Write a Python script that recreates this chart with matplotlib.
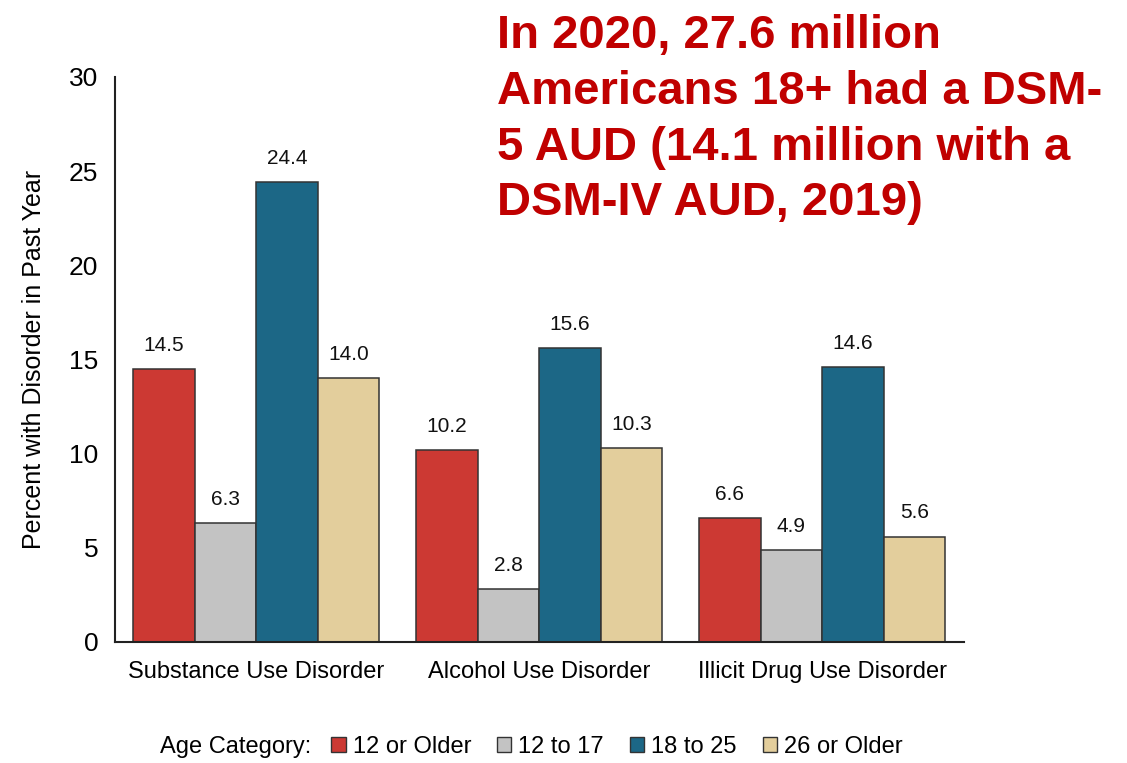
import numpy as np
import matplotlib.pyplot as plt
from matplotlib.patches import Patch

# Past-year disorder prevalence by age group
disorders = ["Substance Use Disorder", "Alcohol Use Disorder", "Illicit Drug Use Disorder"]
age_groups = ["12 or Older", "12 to 17", "18 to 25", "26 or Older"]
older_12 = [14.5, 10.2, 6.6]
age_12_17 = [6.3, 2.8, 4.9]
age_18_25 = [24.4, 15.6, 14.6]
older_26 = [14.0, 10.3, 5.6]
yticks = [0, 5, 10, 15, 20, 25, 30]

series = [older_12, age_12_17, age_18_25, older_26]
colors = ["#CC3933", "#C3C3C3", "#1C6786", "#E3CE9C"]

plt.rcParams["font.family"] = ["Liberation Sans", "DejaVu Sans"]

fig = plt.figure(figsize=(11.27, 7.63), dpi=100)
ax = fig.add_axes([0.102, 0.1586, 0.753, 0.7405])

x = np.arange(len(disorders))
width = 0.2175
for i, (vals, c) in enumerate(zip(series, colors)):
    pos = x + (i - 1.5) * width
    bars = ax.bar(pos, vals, width, color=c, edgecolor="#333333", linewidth=1.1)
    for b, v in zip(bars, vals):
        ax.text(b.get_x() + b.get_width() / 2, v + 0.75, f"{v:.1f}",
                ha="center", va="bottom", fontsize=15, color="#111111")

ax.set_xlim(-0.5, 2.5)
ax.set_ylim(0, 30)
ax.set_yticks(yticks)
ax.set_xticks(x)
ax.set_xticklabels(disorders, fontsize=17)
ax.tick_params(axis="y", labelsize=19, length=0, pad=12)
ax.tick_params(axis="x", length=0, pad=14)
for s in ["top", "right"]:
    ax.spines[s].set_visible(False)
for s in ["left", "bottom"]:
    ax.spines[s].set_linewidth(1.5)
    ax.spines[s].set_color("#222222")
ax.set_ylabel("Percent with Disorder in Past Year", fontsize=18)
ax.yaxis.set_label_coords(-0.081, 0.5)

# Legend along the bottom
legend_y = 0.021
fig.text(0.142, legend_y, "Age Category:", fontsize=17, va="center", ha="left")
handles = [Patch(facecolor=c, edgecolor="#333333", label=l) for c, l in zip(colors, age_groups)]
fig.legend(handles=handles, loc="center left", bbox_to_anchor=(0.294, legend_y), ncol=4,
           frameon=False, fontsize=17, handlelength=0.6, handleheight=0.6,
           handletextpad=0.3, columnspacing=1.1, borderpad=0, borderaxespad=0)

# Headline
fig.text(0.441, 0.982, "In 2020, 27.6 million\nAmericans 18+ had a DSM-\n5 AUD (14.1 million with a\nDSM-IV AUD, 2019)",
         fontsize=34, fontweight="bold", color="#C00000", va="top", ha="left",
         linespacing=1.35)

plt.savefig("out.png", dpi=100)
